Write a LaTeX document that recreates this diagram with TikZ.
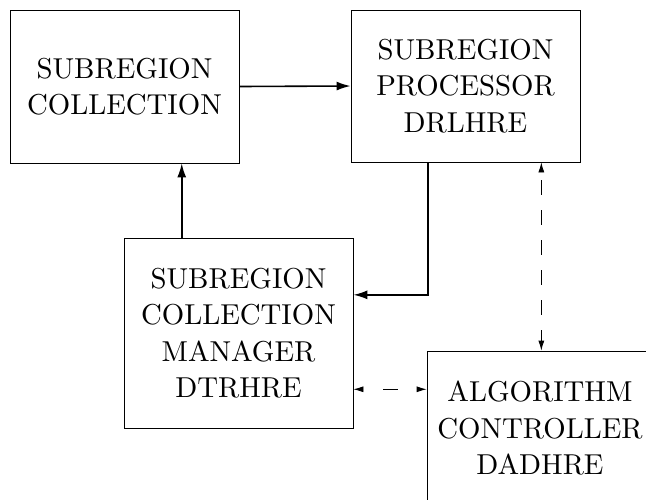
\documentclass[tikz,border=0pt]{standalone}
\usepackage{fontspec}
\setmainfont{lmroman10-regular}[Extension=.otf]
\usetikzlibrary{arrows.meta,calc}
\begin{document}
\begin{tikzpicture}[x=1pt,y=-1pt,
  blk/.style={draw,line width=0.8pt,inner sep=0pt,align=center,
    font=\rmfamily\fontsize{28.8}{36.5}\selectfont},
  flow/.style={line width=1.6pt,-{Latex[length=14pt,width=9pt]}},
  link/.style={line width=0.8pt,
    {Latex[length=10pt,width=6pt]}-{Latex[length=10pt,width=6pt]}}]
\useasboundingbox (0,0) rectangle (646,499);
\clip (0,0) rectangle (646,499);
\node[blk,minimum width=229pt,minimum height=153pt] (A) at (124.5,86.5) {SUBREGION\\COLLECTION};
\node[blk,minimum width=229pt,minimum height=152pt] (B) at (465.5,86) {SUBREGION\\PROCESSOR\\DRLHRE};
\node[blk,minimum width=229pt,minimum height=190pt] (C) at (238.5,333) {SUBREGION\\COLLECTION\\MANAGER\\DTRHRE};
\node[blk,minimum width=226pt,minimum height=154pt] (D) at (540,428) {ALGORITHM\\CONTROLLER\\DADHRE};
\draw[flow] (A.east) -- (B.west);
\coordinate (c1) at ($(C.north west)!0.253!(C.north east)$);
\draw[flow] (c1) -- (c1 |- A.south);
\coordinate (b1) at ($(B.south west)!0.336!(B.south east)$);
\coordinate (c2) at ($(C.north east)!0.3!(C.south east)$);
\draw[flow] (b1) |- (c2);
\coordinate (b2) at ($(B.south west)!0.83!(B.south east)$);
\draw[link,dash pattern=on 15pt off 15pt,dash phase=22pt] (b2) -- (b2 |- D.north);
\coordinate (c3) at ($(C.north east)!0.795!(C.south east)$);
\draw[link,dash pattern=on 15pt off 20pt,dash phase=15pt] (c3) -- (c3 -| D.west);
\end{tikzpicture}
\end{document}
